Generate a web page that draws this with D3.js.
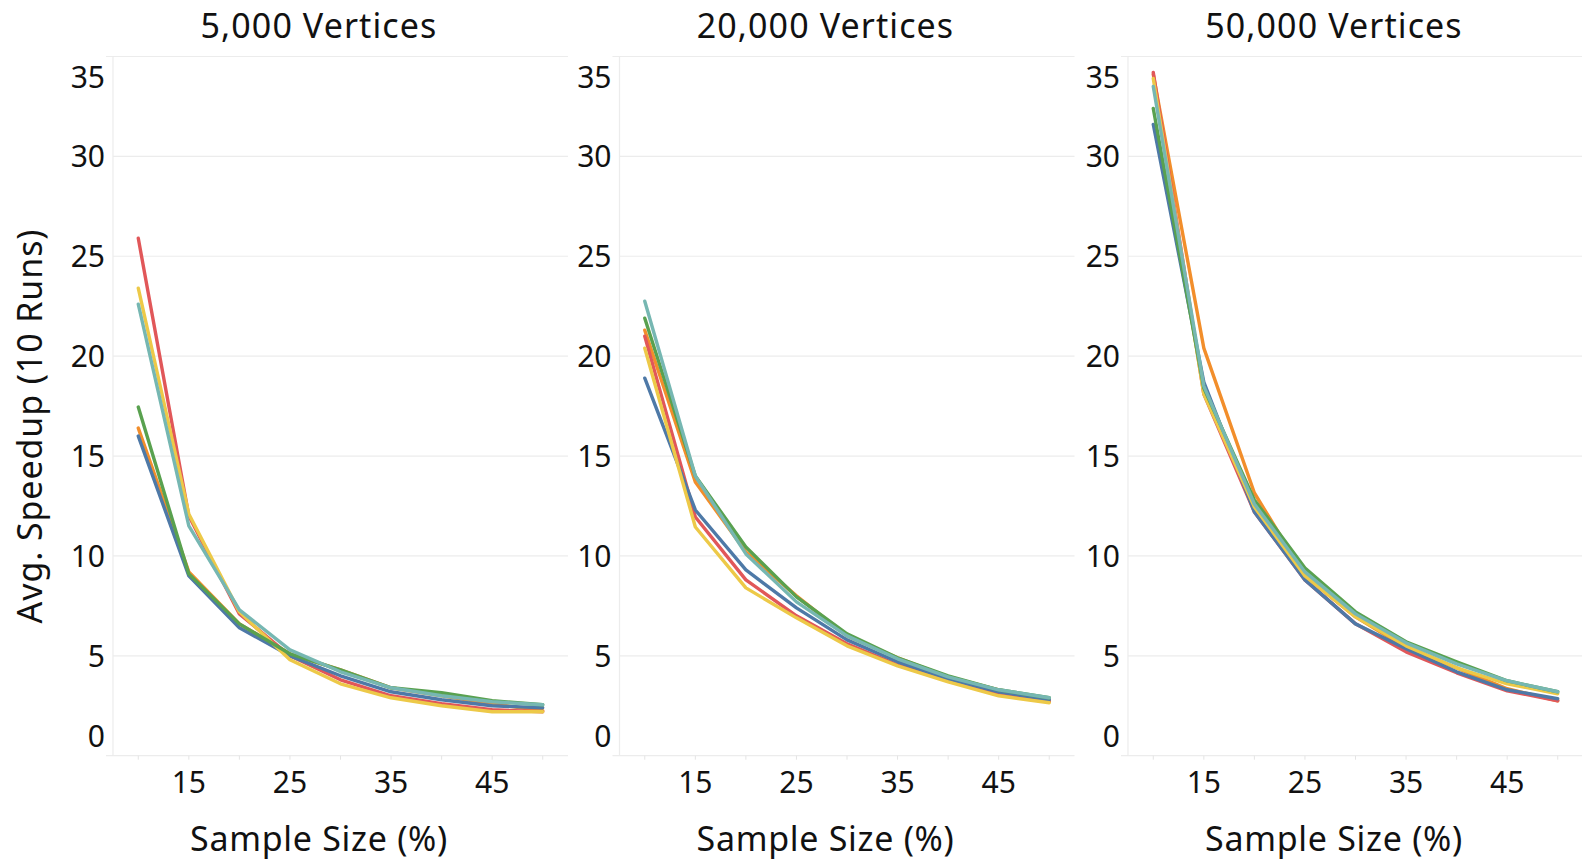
<!DOCTYPE html>
<html>
<head>
<meta charset="utf-8">
<script src="https://cdn.jsdelivr.net/npm/d3@7"></script>
<style>
  html, body { margin: 0; padding: 0; background: #fff; }
  svg { display: block; font-family: "Noto Sans", "Open Sans", sans-serif; }
</style>
</head>
<body>
<svg width="1582" height="860"></svg>
<script>
// sample sizes (%) on the x axis
const sampleSizes = [10, 15, 20, 25, 30, 35, 40, 45, 50];
const panelTitles = ["5,000 Vertices", "20,000 Vertices", "50,000 Vertices"];
const xTicks = [15, 25, 35, 45];
const yTicks = [0, 5, 10, 15, 20, 25, 30, 35];

// avg speedup, one row per panel (5k, 20k, 50k)
const seriesBlue = [
    [16.0, 9.0, 6.4, 5.0, 4.0, 3.2, 2.8, 2.5, 2.4],
    [18.9, 12.3, 9.3, 7.4, 5.8, 4.7, 3.85, 3.2, 2.8],
    [31.6, 18.7, 12.2, 8.8, 6.6, 5.35, 4.2, 3.3, 2.85]
];
const seriesOrange = [
    [16.4, 9.2, 6.6, 5.1, 4.3, 3.4, 3.0, 2.6, 2.25],
    [21.3, 13.7, 10.2, 8.0, 6.0, 4.9, 3.95, 3.3, 2.75],
    [34.1, 20.4, 13.15, 9.0, 6.95, 5.4, 4.4, 3.35, 2.75]
];
const seriesRed = [
    [25.9, 12.0, 7.1, 5.0, 3.8, 3.0, 2.6, 2.3, 2.2],
    [21.0, 11.95, 8.8, 7.0, 5.6, 4.55, 3.75, 3.1, 2.7],
    [34.2, 18.1, 12.2, 8.8, 6.6, 5.2, 4.15, 3.25, 2.75]
];
const seriesTeal = [
    [22.6, 11.5, 7.3, 5.3, 4.2, 3.4, 3.0, 2.7, 2.55],
    [22.75, 14.0, 10.1, 7.7, 6.0, 4.85, 3.95, 3.3, 2.9],
    [33.5, 18.5, 12.6, 9.2, 7.1, 5.65, 4.6, 3.75, 3.2]
];
const seriesGreen = [
    [17.45, 9.1, 6.6, 5.1, 4.3, 3.4, 3.15, 2.75, 2.55],
    [21.9, 14.0, 10.45, 7.95, 6.1, 4.9, 4.0, 3.3, 2.9],
    [32.4, 18.4, 12.8, 9.4, 7.2, 5.7, 4.7, 3.75, 3.2]
];
const seriesYellow = [
    [23.4, 12.1, 7.2, 4.8, 3.6, 2.9, 2.5, 2.2, 2.2],
    [20.4, 11.45, 8.4, 6.9, 5.5, 4.5, 3.7, 3.0, 2.65],
    [33.9, 18.1, 12.45, 9.0, 6.95, 5.5, 4.4, 3.6, 3.1]
];

const seriesList = [
    {values: seriesOrange, color: "#f28e2b"},
    {values: seriesRed, color: "#e15759"},
    {values: seriesBlue, color: "#4e79a7"},
    {values: seriesYellow, color: "#edc948"},
    {values: seriesGreen, color: "#59a14f"},
    {values: seriesTeal, color: "#76b7b2"}
];

let svg = d3.select("svg");

const panelLeft = [113, 619.5, 1128],
    panelWidth = 455,
    plotTop = 56.5,
    plotBottom = 755.7,
    labelCenter = 206;   // titles are centred over axis labels + pane

let x = d3.scaleLinear().domain([7.5, 52.5]).range([0, panelWidth]);
let y = d3.scaleLinear().domain([0, 35]).range([plotBottom, plotTop]);

let line = d3.line()
    .x(function (d, i) { return x(sampleSizes[i]); })
    .y(function (d) { return y(d); });

panelTitles.forEach(function (title, p) {
    let g = svg.append("g").attr("transform", "translate(" + panelLeft[p] + ",0)");

    // gridlines
    g.selectAll(".grid")
        .data(yTicks)
        .enter().append("line")
        .attr("x1", function (d) { return (d === 0 || d === 35) ? -7 : 0; })
        .attr("x2", panelWidth)
        .attr("y1", function (d) { return y(d); })
        .attr("y2", function (d) { return y(d); })
        .attr("stroke", "#ececec")
        .attr("stroke-width", 1.2);

    // left axis line
    g.append("line")
        .attr("x1", 0).attr("x2", 0)
        .attr("y1", plotTop).attr("y2", plotBottom)
        .attr("stroke", "#ececec")
        .attr("stroke-width", 1.2);

    // small ticks along the bottom
    g.selectAll(".xtick")
        .data(sampleSizes)
        .enter().append("line")
        .attr("x1", function (d) { return x(d); })
        .attr("x2", function (d) { return x(d); })
        .attr("y1", plotBottom)
        .attr("y2", plotBottom + 4)
        .attr("stroke", "#e4e4e4");

    // y tick labels, end labels pulled inward like Tableau does
    g.selectAll(".ylab")
        .data(yTicks)
        .enter().append("text")
        .attr("x", -8)
        .attr("y", function (d) {
            let yy = y(d);
            if (d === 35) yy += 21;
            if (d === 0) yy -= 20;
            return yy;
        })
        .attr("dy", "0.36em")
        .attr("text-anchor", "end")
        .attr("font-size", 30)
        .attr("fill", "#111")
        .text(function (d) { return d; });

    // x tick labels
    g.selectAll(".xlab")
        .data(xTicks)
        .enter().append("text")
        .attr("x", function (d) { return x(d); })
        .attr("y", 782)
        .attr("dy", "0.36em")
        .attr("text-anchor", "middle")
        .attr("font-size", 30)
        .attr("fill", "#111")
        .text(function (d) { return d; });

    // x axis title
    g.append("text")
        .attr("x", labelCenter)
        .attr("y", 851)
        .attr("text-anchor", "middle")
        .attr("font-size", 34)
        .attr("letter-spacing", 0.7)
        .attr("fill", "#111")
        .text("Sample Size (%)");

    // panel title
    g.append("text")
        .attr("x", labelCenter)
        .attr("y", 38)
        .attr("text-anchor", "middle")
        .attr("font-size", 34)
        .attr("letter-spacing", 1.1)
        .attr("fill", "#111")
        .text(title);

    // series lines
    seriesList.forEach(function (s) {
        g.append("path")
            .datum(s.values[p])
            .attr("d", line)
            .attr("fill", "none")
            .attr("stroke", s.color)
            .attr("stroke-width", 3.4)
            .attr("stroke-linejoin", "round")
            .attr("stroke-linecap", "round");
    });
});

// y axis title
svg.append("text")
    .attr("transform", "translate(30,426) rotate(-90)")
    .attr("dy", "0.36em")
    .attr("text-anchor", "middle")
    .attr("font-size", 34)
    .attr("letter-spacing", 0.9)
    .attr("fill", "#111")
    .text("Avg. Speedup (10 Runs)");
</script>
</body>
</html>
